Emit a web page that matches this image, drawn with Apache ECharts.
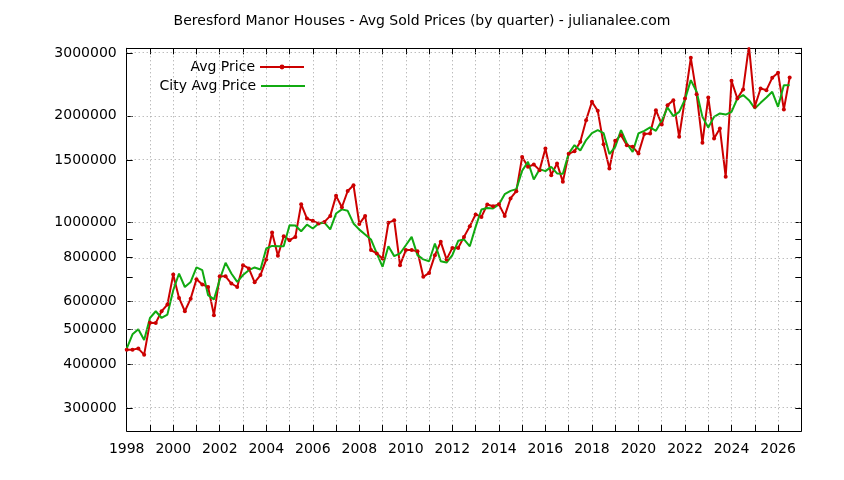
<!DOCTYPE html>
<html lang="en">
<head>
    <meta charset="UTF-8">
    <title>Beresford Manor Houses - Avg Sold Prices</title>
    <script src="https://cdn.jsdelivr.net/npm/echarts@6/dist/echarts.min.js"></script>
    <style>
        html, body { margin: 0; padding: 0; background: #fff; }
        #main { width: 844px; height: 480px; }
    </style>
</head>
<body>
    <div id="main"></div>
    <script>
        // quarterly series, first point = 1998 Q1
        const startYear = 1998;
        const avgPrice = [
            439000, 439000, 442000, 425000, 523000, 522000, 563000, 588000,
            714000, 614000, 563000, 611000, 693000, 670000, 659000, 549000,
            707000, 706000, 674000, 659000, 759000, 743000, 679000, 712000,
            788000, 938000, 807000, 916000, 893000, 912000, 1127000, 1027000,
            1012000, 995000, 1005000, 1045000, 1190000, 1105000, 1228000, 1275000,
            992000, 1045000, 837000, 819000, 793000, 999000, 1016000, 759000,
            837000, 837000, 831000, 704000, 722000, 810000, 883000, 788000,
            849000, 849000, 912000, 977000, 1055000, 1038000, 1125000, 1113000,
            1126000, 1045000, 1170000, 1227000, 1532000, 1436000, 1458000, 1406000,
            1618000, 1361000, 1468000, 1303000, 1563000, 1590000, 1689000, 1944000,
            2190000, 2065000, 1664000, 1421000, 1700000, 1764000, 1653000, 1635000,
            1566000, 1776000, 1784000, 2074000, 1891000, 2143000, 2213000, 1745000,
            2237000, 2912000, 2301000, 1678000, 2252000, 1727000, 1842000, 1346000,
            2509000, 2237000, 2373000, 3150000, 2120000, 2388000, 2362000, 2558000,
            2642000, 2084000, 2565000
        ];
        const cityAvgPrice = [
            442000, 485000, 501000, 467000, 539000, 563000, 539000, 551000,
            645000, 719000, 659000, 681000, 748000, 735000, 625000, 608000,
            692000, 771000, 719000, 681000, 712000, 735000, 748000, 738000,
            846000, 860000, 858000, 858000, 984000, 982000, 946000, 987000,
            963000, 995000, 1000000, 957000, 1061000, 1090000, 1080000, 995000,
            956000, 926000, 897000, 819000, 751000, 858000, 805000, 819000,
            864000, 912000, 810000, 788000, 779000, 874000, 779000, 772000,
            810000, 889000, 897000, 858000, 973000, 1089000, 1100000, 1096000,
            1125000, 1203000, 1229000, 1243000, 1400000, 1483000, 1323000, 1415000,
            1397000, 1436000, 1376000, 1373000, 1566000, 1653000, 1597000, 1709000,
            1788000, 1822000, 1788000, 1560000, 1635000, 1822000, 1671000, 1581000,
            1784000, 1814000, 1854000, 1814000, 1936000, 2111000, 1995000, 2052000,
            2223000, 2520000, 2337000, 1986000, 1854000, 1986000, 2030000, 2016000,
            2052000, 2237000, 2287000, 2213000, 2098000, 2175000, 2252000, 2337000,
            2120000, 2439000, 2439000
        ];
        const yTickValues = [300000, 400000, 500000, 600000, 700000, 800000, 900000, 1000000, 1500000, 2000000, 3000000];
        const yLabelValues = [300000, 400000, 500000, 600000, 800000, 1000000, 1500000, 2000000, 3000000];
        const yRange = [259000, 3098000];
        const xRange = [1998, 2027];

        // log scale done by hand so the odd gnuplot tick set can be used
        const lg = v => Math.log10(v);
        const toPoints = arr => arr.map((v, i) => [startYear + i * 0.25, lg(v)]);

        const font = 'DejaVu Sans';
        const fontSize = 14;
        const gridDots = { color: '#a0a0a0', width: 1, type: [1, 3] };
        const red = '#cc0000';
        const green = '#11aa11';

        const yBase = {
            type: 'value',
            min: lg(yRange[0]),
            max: lg(yRange[1]),
            axisLine: { show: true, lineStyle: { color: '#000', width: 1 } },
            axisTick: { show: true, inside: true, length: 6, lineStyle: { color: '#000' },
                        customValues: yTickValues.map(lg) },
            splitLine: { show: false }
        };
        const xBase = {
            type: 'value',
            min: xRange[0],
            max: xRange[1],
            interval: 1,
            axisLine: { show: true, onZero: false, lineStyle: { color: '#000', width: 1 } },
            axisTick: { show: true, inside: true, length: 6, lineStyle: { color: '#000' } }
        };
        const legendText = { fontFamily: font, fontSize: fontSize, color: '#000' };

        const option = {
            animation: false,
            backgroundColor: '#fff',
            title: {
                text: 'Beresford Manor Houses - Avg Sold Prices (by quarter) - julianalee.com',
                left: 'center',
                top: 9,
                textStyle: { fontFamily: font, fontSize: fontSize, fontWeight: 'normal', color: '#000' }
            },
            legend: [
                {
                    data: ['Avg Price'], right: 534, top: 55, align: 'right',
                    itemWidth: 44, itemHeight: 6, selectedMode: false,
                    textStyle: legendText
                },
                {
                    data: [{ name: 'City Avg Price', icon: 'rect' }], right: 534, top: 74, align: 'right',
                    itemWidth: 44, itemHeight: 2, selectedMode: false,
                    textStyle: legendText
                }
            ],
            grid: { left: 126.7, right: 42.7, top: 48.3, bottom: 49, containLabel: false },
            xAxis: [
                Object.assign({}, xBase, {
                    position: 'bottom',
                    axisLabel: {
                        fontFamily: font, fontSize: fontSize, color: '#000', margin: 11,
                        formatter: v => (v % 2 === 0 ? String(v) : '')
                    },
                    splitLine: { show: true, lineStyle: gridDots }
                }),
                Object.assign({}, xBase, {
                    position: 'top',
                    axisLabel: { show: false },
                    splitLine: { show: false }
                })
            ],
            yAxis: [
                Object.assign({}, yBase, {
                    position: 'left',
                    axisLabel: {
                        fontFamily: font, fontSize: fontSize, color: '#000', margin: 10,
                        customValues: yLabelValues.map(lg),
                        formatter: v => String(Math.round(Math.pow(10, v) / 100000) * 100000)
                    }
                }),
                Object.assign({}, yBase, {
                    position: 'right',
                    axisLabel: { show: false }
                })
            ],
            series: [
                {
                    // horizontal dotted grid at the labelled values
                    type: 'line',
                    name: 'grid',
                    data: [],
                    silent: true,
                    markLine: {
                        silent: true,
                        symbol: 'none',
                        label: { show: false },
                        lineStyle: gridDots,
                        data: yLabelValues.map(v => ({ yAxis: lg(v) }))
                    }
                },
                {
                    type: 'line',
                    name: 'Avg Price',
                    data: toPoints(avgPrice),
                    symbol: 'circle',
                    symbolSize: 4,
                    showSymbol: true,
                    lineStyle: { color: red, width: 2 },
                    itemStyle: { color: red }
                },
                {
                    type: 'line',
                    name: 'City Avg Price',
                    data: toPoints(cityAvgPrice),
                    symbol: 'none',
                    lineStyle: { color: green, width: 2 },
                    itemStyle: { color: green }
                }
            ]
        };

        const chart = echarts.init(document.getElementById('main'));
        chart.setOption(option);
    </script>
</body>
</html>
